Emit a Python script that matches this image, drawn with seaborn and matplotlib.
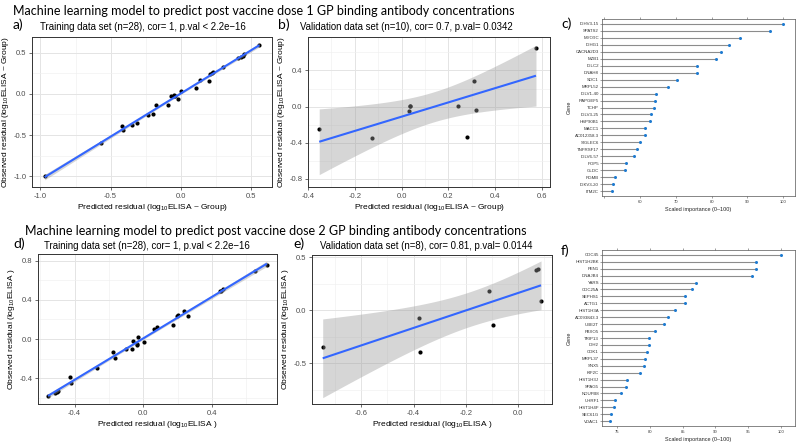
import numpy as np
import pandas as pd
import matplotlib
matplotlib.use("Agg")
import matplotlib.pyplot as plt
import seaborn as sns

# ------------------------------------------------------------------ data
title1 = "Machine learning model to predict post vaccine dose 1 GP binding antibody concentrations"
title2 = "Machine learning model to predict post vaccine dose 2 GP binding antibody concentrations"
sub_a = "Training data set (n=28), cor= 1, p.val < 2.2e\u221216"
sub_b = "Validation data set (n=10), cor= 0.7, p.val= 0.0342"
sub_d = "Training data set (n=28), cor= 1, p.val < 2.2e\u221216"
sub_e = "Validation data set (n=8), cor= 0.81, p.val= 0.0144"

a_pred = [-0.97, -0.57, -0.42, -0.41, -0.35, -0.31, -0.23, -0.20, -0.18, -0.09, -0.07, -0.05, -0.05, -0.04,
          -0.02, 0.00, 0.11, 0.14, 0.20, 0.21, 0.22, 0.23, 0.30, 0.41, 0.43, 0.44, 0.45, 0.56]
a_obs = [-1.00, -0.60, -0.39, -0.44, -0.38, -0.35, -0.26, -0.24, -0.14, -0.13, -0.03, -0.01, -0.03, -0.02,
         -0.06, 0.04, 0.07, 0.17, 0.16, 0.24, 0.25, 0.26, 0.33, 0.44, 0.45, 0.46, 0.48, 0.59]

b_pred = [-0.352, -0.126, 0.030, 0.036, 0.036, 0.240, 0.282, 0.310, 0.318, 0.575]
b_obs = [-0.244, -0.352, -0.044, 0.011, 0.008, 0.011, -0.341, 0.278, -0.033, 0.652]

d_pred = [-0.555, -0.516, -0.496, -0.500, -0.428, -0.422, -0.267, -0.179, -0.165, -0.101, -0.068, -0.062,
          -0.039, -0.035, -0.029, 0.004, 0.062, 0.078, 0.175, 0.195, 0.200, 0.239, 0.263, 0.448, 0.455,
          0.467, 0.652, 0.720]
d_obs = [-0.585, -0.551, -0.527, -0.540, -0.384, -0.452, -0.296, -0.133, -0.194, -0.102, -0.099, -0.024,
         -0.065, -0.051, 0.017, -0.031, 0.105, 0.119, 0.146, 0.238, 0.241, 0.282, 0.231, 0.486, 0.490,
         0.510, 0.697, 0.758]

e_pred = [-0.748, -0.381, -0.375, -0.112, -0.096, 0.069, 0.077, 0.088]
e_obs = [-0.341, -0.075, -0.391, 0.181, -0.141, 0.375, 0.388, 0.0875]

c_genes = ["IGHV3-15", "SPATS2", "MYO9C", "IGHG1", "CACNA2D3", "MZB1", "IGLC2", "DNAH8", "SDC1",
           "MRPL52", "IGLV1-40", "RAPGEF5", "TCHP", "IGLV3-25", "HSP90B1", "MACC1", "AC012358.3",
           "SIGLEC6", "TNFRSF17", "IGLV6-57", "POP5", "GLDC", "RGMB", "IGKV3-20", "ITM2C"]
c_imp = [100, 96.4, 88.0, 84.8, 82.6, 81.1, 76.0, 75.9, 70.4, 67.9, 64.4, 64.3, 63.9, 63.2, 62.7,
         61.4, 61.4, 60.0, 59.3, 58.2, 56.0, 55.9, 53.0, 52.6, 52.2]

f_genes = ["CDC45", "HIST1H2BK", "FEN1", "DNAJB4", "YARS", "CDC25A", "SEPHS1", "ACTG1", "HIST1H3A",
           "AC093843.3", "UBE2T", "FBXO5", "TRIP13", "IDH2", "CDK1", "MRPL37", "SNX5", "KIF2C",
           "HIST1H3J", "SPAG5", "NDUFB8", "UHRF1", "HIST1H4F", "SEC61G", "VDAC1"]
f_imp = [100, 96.3, 96.3, 95.6, 87.0, 86.5, 85.4, 85.4, 83.9, 82.8, 82.2, 80.7, 79.9, 79.8, 79.6,
         79.2, 79.1, 78.4, 76.5, 76.3, 75.6, 74.6, 74.5, 74.1, 73.9]

c_ticks = [50, 60, 70, 80, 90, 100]
c_ticklabels = ["", "60", "70", "80", "90", "100"]
f_ticks = [75, 80, 85, 90, 95, 100]
f_ticklabels = ["75", "80", "85", "90", "95", "100"]

# two-sided 95% t quantiles by residual degrees of freedom (as used by lm smoothing bands)
T975 = {6: 2.447, 8: 2.306, 26: 2.056}

# ------------------------------------------------------------------ style
sns.set_theme(style="white")
plt.rcParams["font.family"] = ["Liberation Sans", "DejaVu Sans"]
plt.rcParams["axes.unicode_minus"] = False
plt.rcParams["mathtext.fontset"] = "custom"
plt.rcParams["mathtext.rm"] = "Liberation Sans"
plt.rcParams["mathtext.it"] = "Liberation Sans:italic"
plt.rcParams["mathtext.bf"] = "Liberation Sans:bold"

W, H = 796, 443
fig = plt.figure(figsize=(W / 100, H / 100), dpi=100)
fig.patch.set_facecolor("white")
renderer = fig.canvas.get_renderer()


def add_ax(l, t, r, b):
    return fig.add_axes([l / W, 1 - b / H, (r - l) / W, (b - t) / H])


def fit_text(x, y, s, width, family, size=None):
    t = fig.text(x / W, 1 - y / H, s, fontsize=10, family=family, ha="left", va="center", color="black")
    if size is None:
        w = t.get_window_extent(renderer).width
        size = 10 * width / w
    t.set_fontsize(size)
    return size


def minor_between(ticks, lim):
    step = ticks[1] - ticks[0]
    m = np.arange(ticks[0] - step / 2, ticks[-1] + step, step)
    return [v for v in m if lim[0] <= v <= lim[1]]


def lm_band(x, y, grid):
    X = np.asarray(x, float)
    Y = np.asarray(y, float)
    n = len(X)
    b1, b0 = np.polyfit(X, Y, 1)
    fit = b0 + b1 * grid
    s = np.sqrt(np.sum((Y - (b0 + b1 * X)) ** 2) / (n - 2))
    se = s * np.sqrt(1 / n + (grid - X.mean()) ** 2 / np.sum((X - X.mean()) ** 2))
    t = T975[n - 2]
    return fit - t * se, fit + t * se


def reg_panel(ax, x, y, xlim, ylim, xt, yt, xlabel, ylabel):
    df = pd.DataFrame({"pred": x, "obs": y})
    sns.regplot(data=df, x="pred", y="obs", ax=ax, ci=None, truncate=True,
                scatter_kws=dict(s=9, color="black", linewidths=0, alpha=1, zorder=2),
                line_kws=dict(color="#3366FF", lw=1.5, zorder=4, solid_capstyle="butt"))
    gx = np.asarray(ax.lines[-1].get_xdata(), float)
    lo, hi = lm_band(x, y, gx)
    ax.fill_between(gx, lo, hi, color="#999999", alpha=0.4, lw=0, zorder=3)
    ax.set_xlim(xlim)
    ax.set_ylim(ylim)
    ax.set_xticks(xt, labels=[f"{v:.1f}" for v in xt])
    ax.set_yticks(yt, labels=[f"{v:.1f}" for v in yt])
    ax.set_xticks(minor_between(xt, xlim), minor=True)
    ax.set_yticks(minor_between(yt, ylim), minor=True)
    ax.grid(True, which="major", color="#E4E4E4", lw=0.7)
    ax.grid(True, which="minor", color="#F0F0F0", lw=0.45)
    ax.set_axisbelow(True)
    for sp in ax.spines.values():
        sp.set_visible(True)
        sp.set_color("#333333")
        sp.set_linewidth(0.7)
    ax.tick_params(which="major", length=2.5, width=0.5, color="#333333", labelsize=5.5,
                   labelcolor="#4D4D4D", pad=1.5, left=True, bottom=True)
    ax.tick_params(which="minor", length=0)
    ax.set_xlabel(xlabel, fontsize=6, color="black", labelpad=2)
    ax.set_ylabel(ylabel, fontsize=6, color="black", labelpad=2)


def lolli(ax, genes, vals, xlim, xt, xtl):
    df = pd.DataFrame({"Gene": genes, "imp": vals})
    sns.stripplot(data=df, x="imp", y="Gene", ax=ax, jitter=False, size=2.2, color="#1F7BD0",
                  linewidth=0, zorder=3, orient="h")
    pos = np.arange(len(genes))
    ax.hlines(pos, xlim[0], df["imp"], color="#8C8C8C", lw=0.8, zorder=1)
    ax.set_xlim(xlim)
    ax.set_ylim(len(genes) - 1 + 0.7, -0.7)
    ax.set_xticks(xt, labels=xtl)
    ax.grid(False)
    for sp in ax.spines.values():
        sp.set_visible(True)
        sp.set_color("#555555")
        sp.set_linewidth(0.5)
    ax.tick_params(axis="x", top=True, bottom=True, length=1.5, width=0.4, color="#555555",
                   labelsize=3.0, labelcolor="#333333", pad=1.5)
    ax.tick_params(axis="y", left=True, length=1.2, width=0.4, color="#555555",
                   labelsize=3.2, labelcolor="#333333", pad=1)
    ax.set_xlabel("Scaled importance (0\u2013100)", fontsize=4, labelpad=2)
    ax.set_ylabel("Gene", fontsize=4, labelpad=2)


# ------------------------------------------------------------------ panels
ax_a = add_ax(32, 37, 272, 187)
reg_panel(ax_a, a_pred, a_obs, (-1.06, 0.65), (-1.13, 0.69), [-1.0, -0.5, 0.0, 0.5], [-1.0, -0.5, 0.0, 0.5],
          "Predicted residual (log$_{10}$ELISA ~ Group)", "Observed residual (log$_{10}$ELISA ~ Group)")

ax_b = add_ax(308, 37, 550, 187)
reg_panel(ax_b, b_pred, b_obs, (-0.40, 0.635), (-0.89, 0.77), [-0.4, -0.2, 0.0, 0.2, 0.4, 0.6],
          [-0.8, -0.4, 0.0, 0.4],
          "Predicted residual (log$_{10}$ELISA ~ Group)", "Observed residual (log$_{10}$ELISA ~ Group)")

ax_d = add_ax(38, 254, 277, 404)
reg_panel(ax_d, d_pred, d_obs, (-0.613, 0.779), (-0.663, 0.867), [-0.4, 0.0, 0.4], [-0.4, 0.0, 0.4, 0.8],
          "Predicted residual (log$_{10}$ELISA )", "Observed residual (log$_{10}$ELISA )")

ax_e = add_ax(312, 255, 552, 404)
reg_panel(ax_e, e_pred, e_obs, (-0.789, 0.130), (-0.881, 0.519), [-0.6, -0.4, -0.2, 0.0], [-0.5, 0.0, 0.5],
          "Predicted residual (log$_{10}$ELISA )", "Observed residual (log$_{10}$ELISA )")

ax_c = add_ax(602, 19, 795, 196)
lolli(ax_c, c_genes, c_imp, (49.4, 103.3), c_ticks, c_ticklabels)

ax_f = add_ax(602, 250, 795, 426)
lolli(ax_f, f_genes, f_imp, (72.65, 102.2), f_ticks, f_ticklabels)

# ------------------------------------------------------------------ texts
ts = fit_text(13, 11, title1, 502, ["Lato", "DejaVu Sans"])
fit_text(25, 231, title2, 502, ["Lato", "DejaVu Sans"], size=ts)

ss = fit_text(300, 27, sub_b, 213, ["Liberation Sans", "DejaVu Sans"])
fit_text(40, 27, sub_a, 0, ["Liberation Sans", "DejaVu Sans"], size=ss)
fit_text(44, 246, sub_d, 0, ["Liberation Sans", "DejaVu Sans"], size=ss)
fit_text(320, 246, sub_e, 0, ["Liberation Sans", "DejaVu Sans"], size=ss)

for lab, x, y in [("a)", 13, 25), ("b)", 278, 25), ("c)", 561, 24),
                  ("d)", 13, 244), ("e)", 293, 244), ("f)", 561, 251)]:
    fit_text(x, y, lab, 0, ["Lato", "DejaVu Sans"], size=10)

fig.savefig("out.png", dpi=100, facecolor="white")
